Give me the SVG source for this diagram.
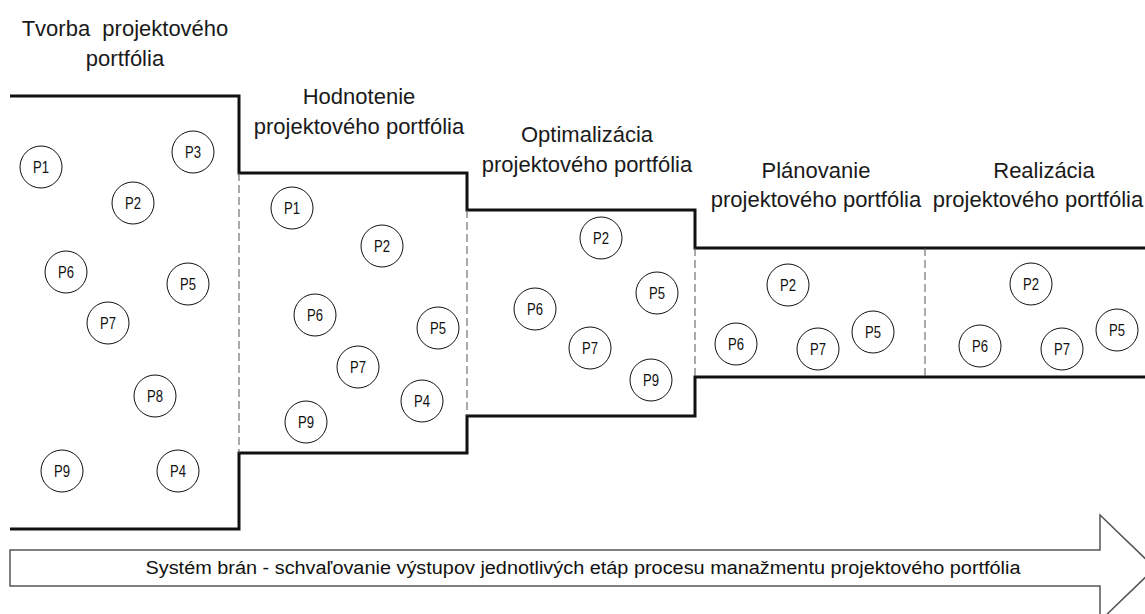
<svg xmlns="http://www.w3.org/2000/svg" width="1145" height="614" viewBox="0 0 1145 614">
<style>
.t{font-family:"Liberation Sans",Arial,sans-serif;font-size:22px;fill:#1a1a1a;text-anchor:middle}
.p circle{fill:#fff;stroke:#111;stroke-width:1}
.p text{font-family:"Liberation Sans",Arial,sans-serif;font-size:16px;fill:#111;text-anchor:middle}
.wall{fill:none;stroke:#111;stroke-width:3}
.gate{fill:none;stroke:#555;stroke-width:1;stroke-dasharray:8,4}
.arrow{fill:#fff;stroke:#555;stroke-width:1.5}
.at{font-family:"Liberation Sans",Arial,sans-serif;font-size:18px;fill:#111;text-anchor:middle}
</style>
<g id="connectors">
<path class="wall" d="M10,96 H239 V173 H467 V210 H695 V248 H1145"/>
<path class="wall" d="M10,529 H239 V453 H467 V416 H695 V377 H1145"/>
<path class="gate" d="M239,173 V453 M467,210 V416 M695,248 V377 M925,248 V377"/>
</g>
<g id="titles">
<text class="t" x="125" y="36">Tvorba&#160; projektového</text>
<text class="t" x="125" y="66">portfólia</text>
<text class="t" x="359" y="104">Hodnotenie</text>
<text class="t" x="359" y="134">projektového portfólia</text>
<text class="t" x="587" y="142">Optimalizácia</text>
<text class="t" x="587" y="172">projektového portfólia</text>
<text class="t" x="816" y="178">Plánovanie</text>
<text class="t" x="816" y="207">projektového portfólia</text>
<text class="t" x="1044" y="178">Realizácia</text>
<text class="t" x="1038" y="207">projektového portfólia</text>
</g>
<g id="stage1" class="p">
<g id="s1p1"><circle cx="41" cy="167" r="21"/><text x="41" y="173" textLength="16" lengthAdjust="spacingAndGlyphs">P1</text></g>
<g id="s1p3"><circle cx="193" cy="152" r="21"/><text x="193" y="158" textLength="16" lengthAdjust="spacingAndGlyphs">P3</text></g>
<g id="s1p2"><circle cx="133" cy="203" r="21"/><text x="133" y="209" textLength="16" lengthAdjust="spacingAndGlyphs">P2</text></g>
<g id="s1p6"><circle cx="66" cy="272" r="21"/><text x="66" y="278" textLength="16" lengthAdjust="spacingAndGlyphs">P6</text></g>
<g id="s1p5"><circle cx="188" cy="284" r="21"/><text x="188" y="290" textLength="16" lengthAdjust="spacingAndGlyphs">P5</text></g>
<g id="s1p7"><circle cx="108" cy="323" r="21"/><text x="108" y="329" textLength="16" lengthAdjust="spacingAndGlyphs">P7</text></g>
<g id="s1p8"><circle cx="155" cy="396" r="21"/><text x="155" y="402" textLength="16" lengthAdjust="spacingAndGlyphs">P8</text></g>
<g id="s1p9"><circle cx="62" cy="471" r="21"/><text x="62" y="477" textLength="16" lengthAdjust="spacingAndGlyphs">P9</text></g>
<g id="s1p4"><circle cx="178" cy="471" r="21"/><text x="178" y="477" textLength="16" lengthAdjust="spacingAndGlyphs">P4</text></g>
</g>
<g id="stage2" class="p">
<g id="s2p1"><circle cx="292" cy="208" r="21"/><text x="292" y="214" textLength="16" lengthAdjust="spacingAndGlyphs">P1</text></g>
<g id="s2p2"><circle cx="382" cy="246" r="21"/><text x="382" y="252" textLength="16" lengthAdjust="spacingAndGlyphs">P2</text></g>
<g id="s2p6"><circle cx="315" cy="315" r="21"/><text x="315" y="321" textLength="16" lengthAdjust="spacingAndGlyphs">P6</text></g>
<g id="s2p5"><circle cx="438" cy="328" r="21"/><text x="438" y="334" textLength="16" lengthAdjust="spacingAndGlyphs">P5</text></g>
<g id="s2p7"><circle cx="358" cy="367" r="21"/><text x="358" y="373" textLength="16" lengthAdjust="spacingAndGlyphs">P7</text></g>
<g id="s2p4"><circle cx="422" cy="401" r="21"/><text x="422" y="407" textLength="16" lengthAdjust="spacingAndGlyphs">P4</text></g>
<g id="s2p9"><circle cx="306" cy="422" r="21"/><text x="306" y="428" textLength="16" lengthAdjust="spacingAndGlyphs">P9</text></g>
</g>
<g id="stage3" class="p">
<g id="s3p2"><circle cx="601" cy="238" r="21"/><text x="601" y="244" textLength="16" lengthAdjust="spacingAndGlyphs">P2</text></g>
<g id="s3p5"><circle cx="657" cy="293" r="21"/><text x="657" y="299" textLength="16" lengthAdjust="spacingAndGlyphs">P5</text></g>
<g id="s3p6"><circle cx="535" cy="309" r="21"/><text x="535" y="315" textLength="16" lengthAdjust="spacingAndGlyphs">P6</text></g>
<g id="s3p7"><circle cx="590" cy="348" r="21"/><text x="590" y="354" textLength="16" lengthAdjust="spacingAndGlyphs">P7</text></g>
<g id="s3p9"><circle cx="651" cy="380" r="21"/><text x="651" y="386" textLength="16" lengthAdjust="spacingAndGlyphs">P9</text></g>
</g>
<g id="stage4" class="p">
<g id="s4p2"><circle cx="788" cy="285" r="21"/><text x="788" y="291" textLength="16" lengthAdjust="spacingAndGlyphs">P2</text></g>
<g id="s4p6"><circle cx="736" cy="344" r="21"/><text x="736" y="350" textLength="16" lengthAdjust="spacingAndGlyphs">P6</text></g>
<g id="s4p7"><circle cx="818" cy="349" r="21"/><text x="818" y="355" textLength="16" lengthAdjust="spacingAndGlyphs">P7</text></g>
<g id="s4p5"><circle cx="873" cy="332" r="21"/><text x="873" y="338" textLength="16" lengthAdjust="spacingAndGlyphs">P5</text></g>
</g>
<g id="stage5" class="p">
<g id="s5p2"><circle cx="1031" cy="284" r="21"/><text x="1031" y="290" textLength="16" lengthAdjust="spacingAndGlyphs">P2</text></g>
<g id="s5p6"><circle cx="980" cy="346" r="21"/><text x="980" y="352" textLength="16" lengthAdjust="spacingAndGlyphs">P6</text></g>
<g id="s5p7"><circle cx="1062" cy="349" r="21"/><text x="1062" y="355" textLength="16" lengthAdjust="spacingAndGlyphs">P7</text></g>
<g id="s5p5"><circle cx="1117" cy="330" r="21"/><text x="1117" y="336" textLength="16" lengthAdjust="spacingAndGlyphs">P5</text></g>
</g>
<g id="gate-arrow">
<path class="arrow" d="M10,550 H1100 V515 L1155,568 L1100,621 V586 H10 Z"/>
<text class="at" x="583" y="574" textLength="875" lengthAdjust="spacingAndGlyphs">Systém brán - schvaľovanie výstupov jednotlivých etáp procesu manažmentu projektového portfólia</text>
</g>
</svg>
